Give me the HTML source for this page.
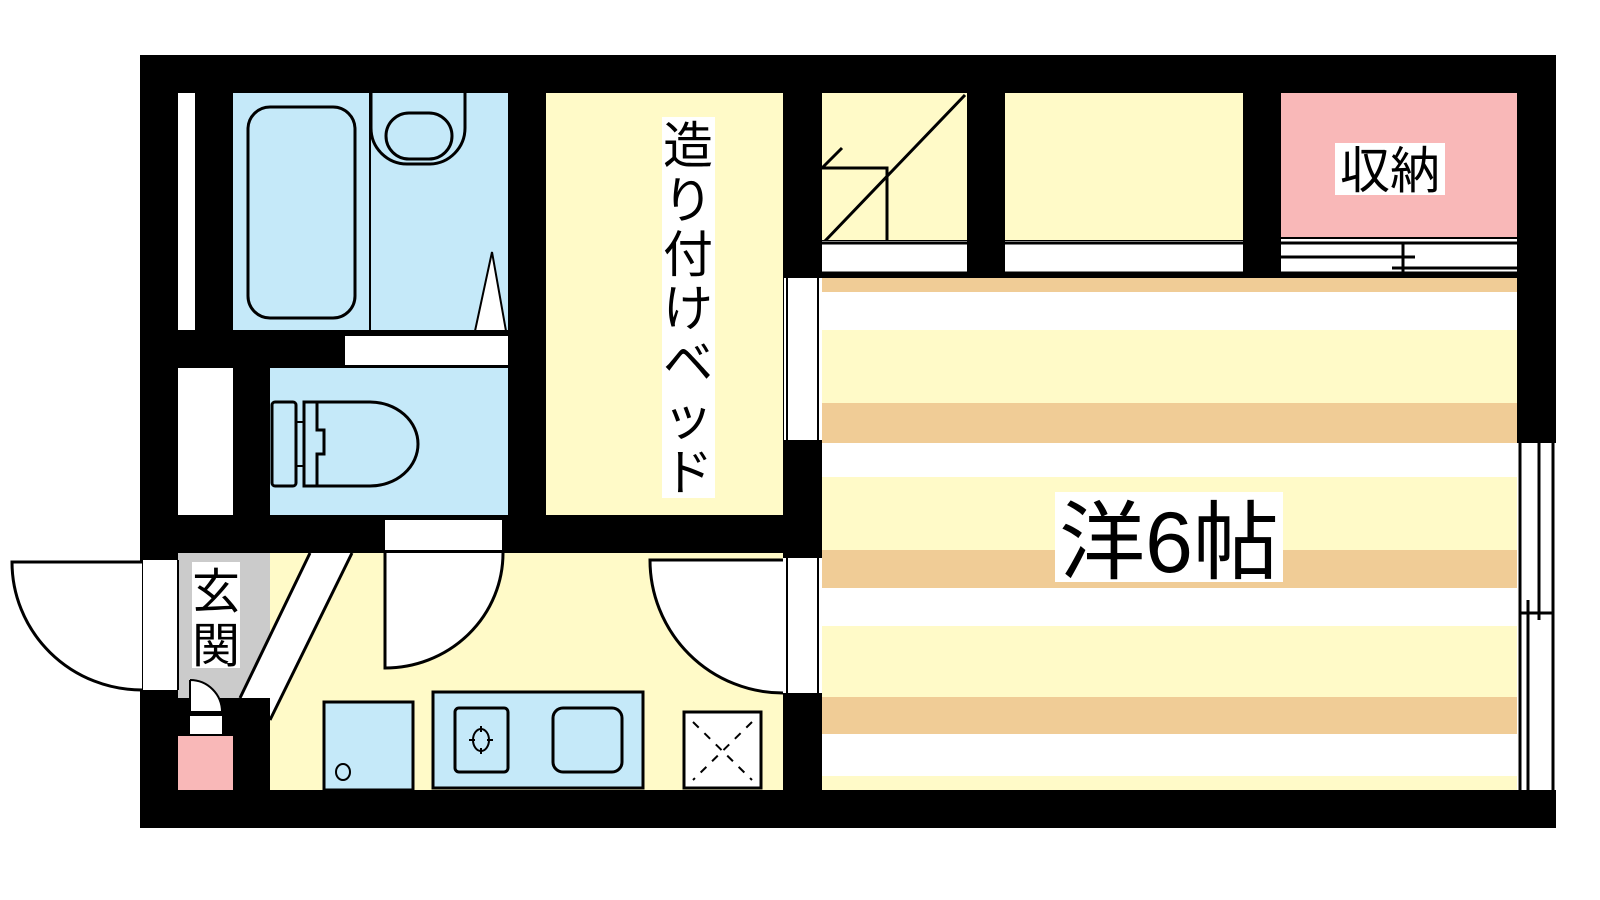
<!DOCTYPE html>
<html><head><meta charset="utf-8"><style>
html,body{margin:0;padding:0;background:#fff;width:1600px;height:900px;overflow:hidden}
svg{display:block}
text{font-family:"Liberation Sans","Noto Sans CJK JP",sans-serif;fill:#000}
</style></head><body>
<svg width="1600" height="900" viewBox="0 0 1600 900" xmlns="http://www.w3.org/2000/svg">
<!-- outer walls -->
<rect x="140" y="55" width="1416" height="773" fill="#000"/>
<!-- left column -->
<rect x="178" y="93" width="17" height="237" fill="#fff"/>
<rect x="233" y="93" width="275" height="237" fill="#c5e9f9"/>
<rect x="248" y="107" width="107" height="211" rx="22" fill="none" stroke="#000" stroke-width="3"/>
<line x1="370" y1="93" x2="370" y2="330" stroke="#000" stroke-width="2"/>
<path d="M371,93 V128 A36,36 0 0 0 407,164 H430 A36,36 0 0 0 465,128 V93" fill="none" stroke="#000" stroke-width="3"/>
<rect x="386" y="113" width="66" height="46" rx="23" fill="none" stroke="#000" stroke-width="3"/>
<path d="M475,331 L492,252 L506,331 Z" fill="#fff" stroke="#000" stroke-width="2"/>
<rect x="345" y="334" width="163" height="31" fill="#fff"/>
<line x1="345" y1="335" x2="508" y2="335" stroke="#000" stroke-width="2"/>
<rect x="178" y="368" width="55" height="147" fill="#fff"/>
<rect x="270" y="368" width="238" height="147" fill="#c5e9f9"/>
<rect x="272" y="402" width="24" height="84" rx="3" fill="none" stroke="#000" stroke-width="3"/>
<line x1="296" y1="422" x2="304" y2="422" stroke="#000" stroke-width="2"/>
<line x1="296" y1="466" x2="304" y2="466" stroke="#000" stroke-width="2"/>
<path d="M304,402 H370 A48,42 0 0 1 370,486 H304 Z" fill="none" stroke="#000" stroke-width="3"/>
<path d="M317,402 V430 H324 V454 H317 V486" fill="none" stroke="#000" stroke-width="3"/>
<rect x="385" y="518" width="117" height="32" fill="#fff"/>
<line x1="385" y1="519" x2="502" y2="519" stroke="#000" stroke-width="2"/>
<!-- bed -->
<rect x="546" y="93" width="237" height="422" fill="#fffac8"/>
<rect x="662" y="117" width="53" height="381" fill="#fff"/>
<text x="688" y="163" font-size="50" text-anchor="middle">造</text>
<text x="688" y="218" font-size="50" text-anchor="middle">り</text>
<text x="688" y="272" font-size="50" text-anchor="middle">付</text>
<text x="688" y="326" font-size="50" text-anchor="middle">け</text>
<text x="688" y="380" font-size="50" text-anchor="middle">ベ</text>
<text x="688" y="435" font-size="50" text-anchor="middle">ッ</text>
<text x="688" y="490" font-size="50" text-anchor="middle">ド</text>
<!-- hallway / kitchen -->
<polygon points="178,553 310,553 240,698 178,698" fill="#cbcbcb"/>
<polygon points="270,553 783,553 783,790 270,790" fill="#fffac8"/>
<polygon points="310,553 352,553 270,720 270,698 240,698" fill="#fff"/>
<line x1="310" y1="553" x2="240" y2="698" stroke="#000" stroke-width="3"/>
<line x1="352" y1="553" x2="270" y2="720" stroke="#000" stroke-width="3"/>
<rect x="233" y="698" width="37" height="92" fill="#000"/>
<rect x="178" y="698" width="55" height="37" fill="#000"/>
<rect x="190" y="716" width="32" height="18" fill="#fff"/>
<rect x="178" y="736" width="55" height="54" fill="#f9b8b8"/>
<path d="M190,680 V712 H222 A32,32 0 0 0 190,680" fill="#fff" stroke="#000" stroke-width="2"/>
<rect x="192" y="562" width="48" height="106" fill="#fff"/>
<text x="216" y="608" font-size="48" text-anchor="middle">玄</text>
<text x="216" y="662" font-size="48" text-anchor="middle">関</text>
<!-- entrance door -->
<rect x="142" y="560" width="36" height="130" fill="#fff"/>
<line x1="142" y1="560" x2="142" y2="690" stroke="#000" stroke-width="2"/>
<line x1="178" y1="560" x2="178" y2="690" stroke="#000" stroke-width="2"/>
<path d="M142,562 H12 A130,128 0 0 0 142,690" fill="#fff" stroke="#000" stroke-width="3"/>
<!-- kitchen doors -->
<path d="M385,553 V668 A118,115 0 0 0 503,553" fill="#fff" stroke="#000" stroke-width="3"/>
<rect x="783" y="558" width="39" height="135" fill="#fff"/>
<line x1="787" y1="558" x2="787" y2="693" stroke="#000" stroke-width="2"/>
<line x1="818" y1="558" x2="818" y2="693" stroke="#000" stroke-width="2"/>
<path d="M783,560 H650 A133,133 0 0 0 783,693" fill="#fff" stroke="#000" stroke-width="3"/>
<!-- kitchen fixtures -->
<rect x="324" y="702" width="89" height="88" fill="#c5e9f9" stroke="#000" stroke-width="3"/>
<ellipse cx="343" cy="772" rx="7" ry="8" fill="none" stroke="#000" stroke-width="2"/>
<rect x="433" y="692" width="210" height="96" fill="#c5e9f9" stroke="#000" stroke-width="3"/>
<rect x="455" y="708" width="53" height="64" rx="4" fill="none" stroke="#000" stroke-width="3"/>
<ellipse cx="481" cy="740" rx="8" ry="11" fill="none" stroke="#000" stroke-width="2"/>
<path d="M481,726v6M481,748v6M469,740h6M487,740h6" stroke="#000" stroke-width="2"/>
<rect x="553" y="708" width="69" height="64" rx="10" fill="none" stroke="#000" stroke-width="3"/>
<rect x="684" y="712" width="77" height="76" fill="#fff" stroke="#000" stroke-width="3"/>
<path d="M693,722 L752,780 M752,722 L693,780" stroke="#000" stroke-width="2" stroke-dasharray="8,8"/>
<!-- partition window -->
<rect x="784" y="278" width="38" height="162" fill="#fff"/>
<line x1="787" y1="278" x2="787" y2="440" stroke="#000" stroke-width="2"/>
<line x1="818" y1="278" x2="818" y2="440" stroke="#000" stroke-width="2"/>
<!-- closets -->
<rect x="822" y="93" width="145" height="147" fill="#fffac8"/>
<rect x="1005" y="93" width="238" height="147" fill="#fffac8"/>
<rect x="1281" y="93" width="236" height="144" fill="#f9b8b8"/>
<path d="M825,241 L965,95 M822,168 H887 V240 M822,168 L842,148" stroke="#000" stroke-width="3" fill="none"/>
<rect x="822" y="241" width="145" height="33" fill="#fff"/>
<rect x="1005" y="241" width="238" height="33" fill="#fff"/>
<rect x="1281" y="239" width="236" height="35" fill="#fff"/>
<path d="M822,243H967M822,273H967M1005,243H1243M1005,273H1243M1281,243H1517M1281,273H1517" stroke="#000" stroke-width="3"/>
<path d="M1281,257H1415M1392,268H1517M1403,243V273" stroke="#000" stroke-width="3"/>
<rect x="1335" y="143" width="110" height="52" fill="#fff"/>
<text x="1390" y="188" font-size="50" text-anchor="middle">収納</text>
<!-- main room -->
<rect x="822" y="278" width="695" height="512" fill="#fff"/>
<rect x="822" y="278" width="695" height="14" fill="#f0cc96"/>
<rect x="822" y="330" width="695" height="73" fill="#fffac8"/>
<rect x="822" y="403" width="695" height="40" fill="#f0cc96"/>
<rect x="822" y="477" width="695" height="73" fill="#fffac8"/>
<rect x="822" y="550" width="695" height="38" fill="#f0cc96"/>
<rect x="822" y="626" width="695" height="71" fill="#fffac8"/>
<rect x="822" y="697" width="695" height="37" fill="#f0cc96"/>
<rect x="822" y="776" width="695" height="14" fill="#fffac8"/>
<rect x="1055" y="492" width="228" height="90" fill="#fff"/>
<text x="1169" y="572" font-size="86" text-anchor="middle">洋6帖</text>
<!-- right window -->
<rect x="1517" y="443" width="39" height="347" fill="#fff"/>
<path d="M1520,443V790M1553,443V790M1539,443V620M1528,600V790M1520,613H1553" stroke="#000" stroke-width="3" fill="none"/>
</svg>
</body></html>
